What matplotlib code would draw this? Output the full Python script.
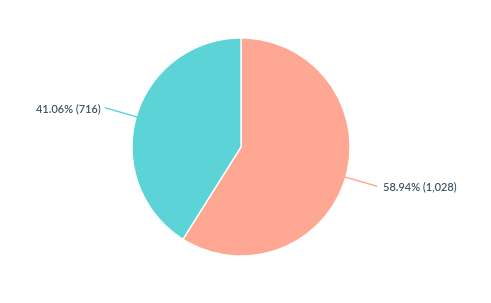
import numpy as np
import matplotlib.pyplot as plt

# Data
categories = ["A", "B"]
counts = [1028, 716]
percents = [58.94, 41.06]
colors = ["#fea792", "#5bd3d7"]

W, H = 491, 303
cx, cy, r = 241, H - 147, 109

fig = plt.figure(figsize=(W / 100, H / 100), dpi=100)
ax = fig.add_axes([0, 0, 1, 1])

wedges, _ = ax.pie(counts, colors=colors, startangle=90, counterclock=False,
                   center=(cx, cy), radius=r,
                   wedgeprops=dict(edgecolor="white", linewidth=1))

ax.set_xlim(0, W)
ax.set_ylim(0, H)
ax.set_aspect("equal")
ax.axis("off")

for w, pct, n, col in zip(wedges, percents, counts, colors):
    mid = np.deg2rad((w.theta1 + w.theta2) / 2)
    x0, y0 = cx + r * np.cos(mid), cy + r * np.sin(mid)
    x1, y1 = cx + (r + 32) * np.cos(mid), cy + (r + 32) * np.sin(mid)
    ax.plot([x0, x1], [y0, y1], color=col, lw=1)
    right = np.cos(mid) > 0
    ax.text(x1 + (7 if right else -5), y1 - 1, f"{pct:.2f}% ({n:,})",
            ha="left" if right else "right", va="center",
            fontsize=7.9, family="Lato", weight="medium", color="#33475b")

fig.savefig("out.png", dpi=100)
